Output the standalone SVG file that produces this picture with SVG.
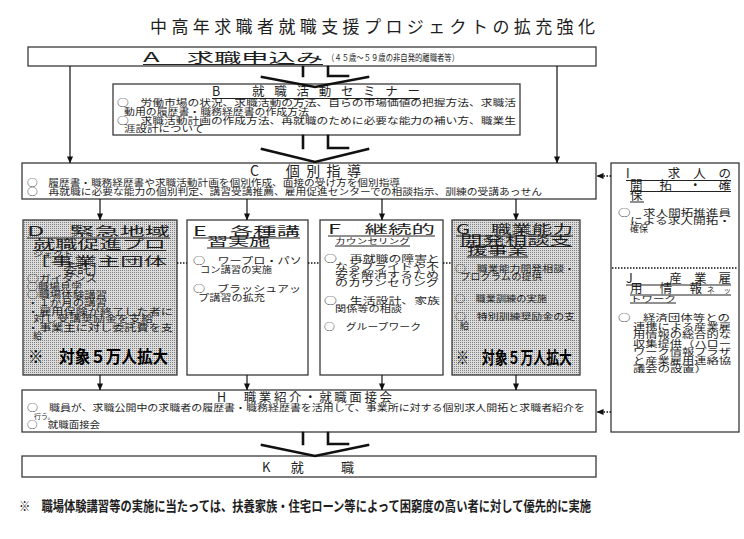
<svg xmlns="http://www.w3.org/2000/svg" width="744" height="539" viewBox="0 0 744 539">
<defs>
<style>
text{font-family:"Noto Sans CJK JP","Noto Sans CJK SC",sans-serif;fill:#1e1e1e;}
.box{fill:#fff;stroke:#3a3a3a;stroke-width:1.3;}
.gbox{fill:url(#ht);stroke:#3a3a3a;stroke-width:1.3;}
.ttl{font-size:12.5px;}
.t{font-size:9px;}
.s{font-size:7.5px;}
.ul{stroke:#222;stroke-width:1;}
.ln{stroke:#111;stroke-width:1.2;fill:none;}
.dot{stroke:#111;stroke-width:1.4;stroke-dasharray:1.5 1.5;fill:none;}
.chev{stroke:#111;stroke-width:2.6;fill:none;stroke-linecap:square;}
.big{font-size:17px;font-weight:bold;fill:#000;}
</style>
<pattern id="ht" width="2" height="2" patternUnits="userSpaceOnUse">
<rect width="2" height="2" fill="#dcdcdc"/><rect width="1" height="1" fill="#808080"/>
</pattern>
<marker id="ah" viewBox="0 0 8 8" refX="7.5" refY="4" markerWidth="7" markerHeight="7" markerUnits="userSpaceOnUse" orient="auto">
<path d="M0,0.5 L8,4 L0,7.5 Z" fill="#111"/>
</marker>
</defs>

<text x="150" y="33" font-size="17" textLength="445" lengthAdjust="spacing">中高年求職者就職支援プロジェクトの拡充強化</text>

<g id="A">
<rect class="box" x="28" y="47" width="568" height="19"/>
<text x="143" y="62" font-size="13" textLength="180" lengthAdjust="spacingAndGlyphs">A　求職申込み</text>
<line class="ul" x1="143" y1="64.5" x2="323" y2="64.5"/>
<text x="327" y="61" font-size="9" textLength="132" lengthAdjust="spacingAndGlyphs">（４５歳～５９歳の非自発的離職者等）</text>
</g>

<g id="B">
<rect class="box" x="113" y="84" width="407" height="51"/>
<text class="ttl" x="212" y="96" textLength="208" lengthAdjust="spacing">B　就職活動セミナー</text>
<line class="ul" x1="212" y1="98.5" x2="420" y2="98.5"/>
<text class="t" x="117" y="106" textLength="399" lengthAdjust="spacingAndGlyphs">○　労働市場の状況、求職活動の方法、自らの市場価値の把握方法、求職活</text>
<text class="t" x="124" y="114.5" textLength="185" lengthAdjust="spacingAndGlyphs">動用の履歴書・職務経歴書の作成方法</text>
<text class="t" x="117" y="123.5" textLength="399" lengthAdjust="spacingAndGlyphs">○　求職活動計画の作成方法、再就職のために必要な能力の補い方、職業生</text>
<text class="t" x="124" y="132" textLength="80" lengthAdjust="spacingAndGlyphs">涯設計について</text>
</g>

<g id="C">
<rect class="box" x="22" y="163" width="574" height="36"/>
<text x="250" y="176" font-size="14" textLength="111" lengthAdjust="spacing">C　個別指導</text>
<text class="t" x="27" y="185.5" textLength="373" lengthAdjust="spacingAndGlyphs">○　履歴書・職務経歴書や求職活動計画を個別作成、面接の受け方を個別指導</text>
<text class="t" x="27" y="195" textLength="515" lengthAdjust="spacingAndGlyphs">○　再就職に必要な能力の個別判定、講習受講推薦、雇用促進センターでの相談指示、訓練の受講あっせん</text>
</g>

<g id="D">
<rect class="gbox" x="23" y="220" width="154" height="155"/>
<text class="ttl" x="27" y="236" textLength="143" lengthAdjust="spacingAndGlyphs">D　緊急地域</text>
<line class="ul" x1="27" y1="238" x2="170" y2="238"/>
<text class="ttl" x="33" y="249" textLength="133" lengthAdjust="spacingAndGlyphs">就職促進プロ</text>
<line class="ul" x1="33" y1="250.5" x2="166" y2="250.5"/>
<text class="s" x="33" y="257" textLength="40" lengthAdjust="spacingAndGlyphs">ジェクト</text>
<text class="ttl" x="27" y="266" textLength="140" lengthAdjust="spacingAndGlyphs">［事業主団体</text>
<text class="ttl" x="63" y="274" textLength="42" lengthAdjust="spacingAndGlyphs">委託］</text>
<text class="t" x="27" y="282" textLength="70" lengthAdjust="spacingAndGlyphs">○ガイダンス</text>
<text class="t" x="27" y="290" textLength="55" lengthAdjust="spacingAndGlyphs">○職場見学</text>
<text class="t" x="27" y="298" textLength="80" lengthAdjust="spacingAndGlyphs">○職場体験講習</text>
<text class="t" x="27" y="306" textLength="80" lengthAdjust="spacingAndGlyphs">・１か月の講習</text>
<text class="t" x="27" y="314.5" textLength="146" lengthAdjust="spacingAndGlyphs">・雇用保険が終了した者に</text>
<text class="t" x="33" y="322" textLength="120" lengthAdjust="spacingAndGlyphs">対し受講奨励金を支給</text>
<text class="t" x="27" y="330.5" textLength="146" lengthAdjust="spacingAndGlyphs">・事業主に対し委託費を支</text>
<text class="t" x="33" y="338.5">給</text>
<text class="big" x="28" y="363" textLength="140" lengthAdjust="spacingAndGlyphs">※　対象５万人拡大</text>
</g>

<g id="E">
<rect class="box" x="187" y="220" width="121" height="155"/>
<text class="ttl" x="193" y="236" textLength="107" lengthAdjust="spacingAndGlyphs">E　各種講</text>
<line class="ul" x1="193" y1="238" x2="300" y2="238"/>
<text class="ttl" x="207" y="246" textLength="63" lengthAdjust="spacingAndGlyphs">習実施</text>
<line class="ul" x1="207" y1="248" x2="270" y2="248"/>
<text class="t" x="193" y="264" textLength="109" lengthAdjust="spacingAndGlyphs">○　ワープロ・パソ</text>
<text class="t" x="200" y="273" textLength="72" lengthAdjust="spacingAndGlyphs">コン講習の実施</text>
<text class="t" x="193" y="292" textLength="108" lengthAdjust="spacingAndGlyphs">○　ブラッシュアッ</text>
<text class="t" x="198" y="301" textLength="67" lengthAdjust="spacingAndGlyphs">プ講習の拡充</text>
</g>

<g id="F">
<rect class="box" x="320" y="220" width="123" height="155"/>
<text class="ttl" x="328" y="234" textLength="107" lengthAdjust="spacingAndGlyphs">F　継続的</text>
<line class="ul" x1="328" y1="236" x2="435" y2="236"/>
<text class="s" x="335" y="244" textLength="75" lengthAdjust="spacingAndGlyphs">カウンセリング</text>
<line class="ul" x1="335" y1="246" x2="410" y2="246"/>
<text class="t" x="324" y="262" textLength="116" lengthAdjust="spacingAndGlyphs">○　再就職の障害と</text>
<text class="t" x="335" y="270" textLength="104" lengthAdjust="spacingAndGlyphs">なるプライドや不</text>
<text class="t" x="335" y="278" textLength="104" lengthAdjust="spacingAndGlyphs">安を解消するため</text>
<text class="t" x="335" y="286" textLength="104" lengthAdjust="spacingAndGlyphs">のカウンセリング</text>
<text class="t" x="324" y="304" textLength="116" lengthAdjust="spacingAndGlyphs">○　生活設計、家族</text>
<text class="t" x="335" y="312" textLength="67" lengthAdjust="spacingAndGlyphs">関係等の相談</text>
<text class="t" x="324" y="330" textLength="97" lengthAdjust="spacingAndGlyphs">○　グループワーク</text>
</g>

<g id="G">
<rect class="gbox" x="452" y="220" width="128" height="155"/>
<text class="ttl" x="456" y="234" textLength="117" lengthAdjust="spacingAndGlyphs">G　職業能力</text>
<line class="ul" x1="456" y1="236" x2="573" y2="236"/>
<text class="ttl" x="460" y="244.5" textLength="112" lengthAdjust="spacingAndGlyphs">開発相談支</text>
<line class="ul" x1="460" y1="246.5" x2="572" y2="246.5"/>
<text class="ttl" x="467" y="255" textLength="61" lengthAdjust="spacingAndGlyphs">援事業</text>
<line class="ul" x1="467" y1="257" x2="528" y2="257"/>
<text class="t" x="455" y="272" textLength="120" lengthAdjust="spacingAndGlyphs">○　職業能力開発相談・</text>
<text class="t" x="460" y="280" textLength="82" lengthAdjust="spacingAndGlyphs">プログラムの提供</text>
<text class="t" x="455" y="302" textLength="92" lengthAdjust="spacingAndGlyphs">○　職業訓練の実施</text>
<text class="t" x="455" y="320" textLength="120" lengthAdjust="spacingAndGlyphs">○　特別訓練奨励金の支</text>
<text class="t" x="460" y="329">給</text>
<text class="big" x="456" y="364" textLength="116" lengthAdjust="spacingAndGlyphs">※　対象５万人拡大</text>
</g>

<g id="H">
<rect class="box" x="22" y="390" width="574" height="42"/>
<text class="ttl" x="217" y="402" textLength="175" lengthAdjust="spacing">H　職業紹介・就職面接会</text>
<text class="t" x="27" y="411" textLength="558" lengthAdjust="spacingAndGlyphs">○　職員が、求職公開中の求職者の履歴書・職務経歴書を活用して、事業所に対する個別求人開拓と求職者紹介を</text>
<text x="34" y="419" font-size="7">行う。</text>
<text class="t" x="27" y="428" textLength="73" lengthAdjust="spacingAndGlyphs">○　就職面接会</text>
</g>

<g id="K">
<rect class="box" x="22" y="456" width="574" height="21"/>
<text x="262" y="472" font-size="13" textLength="92" lengthAdjust="spacing">K　就　　職</text>
</g>

<g id="IJ">
<rect class="box" x="611" y="163" width="128" height="269"/>
<text class="ttl" x="626" y="178" textLength="105" lengthAdjust="spacing">I　求人の</text>
<line class="ul" x1="626" y1="180.5" x2="731" y2="180.5"/>
<text class="ttl" x="630" y="189.5" textLength="101" lengthAdjust="spacing">開拓・確</text>
<line class="ul" x1="630" y1="191.5" x2="731" y2="191.5"/>
<text class="ttl" x="630" y="200">保</text>
<line class="ul" x1="630" y1="202" x2="644" y2="202"/>
<text class="t" x="618" y="216" textLength="113" lengthAdjust="spacingAndGlyphs">○　求人開拓推進員</text>
<text class="t" x="630" y="224" textLength="101" lengthAdjust="spacingAndGlyphs">による求人開拓・</text>
<text class="t" x="630" y="232">確保</text>
<line class="dot" x1="612" y1="268" x2="738" y2="268"/>
<text class="ttl" x="626" y="283" textLength="105" lengthAdjust="spacing">J　産業雇</text>
<line class="ul" x1="626" y1="285" x2="731" y2="285"/>
<text class="ttl" x="630" y="293" textLength="72" lengthAdjust="spacing">用情報</text>
<text x="707" y="293" font-size="7.5" textLength="24" lengthAdjust="spacing">ネッ</text>
<line class="ul" x1="630" y1="295" x2="731" y2="295"/>
<text x="630" y="301.5" font-size="7.5" textLength="46" lengthAdjust="spacingAndGlyphs">トワーク</text>
<line class="ul" x1="630" y1="303" x2="676" y2="303"/>
<text class="t" x="618" y="321" textLength="112" lengthAdjust="spacingAndGlyphs">○　経済団体等との</text>
<text class="t" x="633" y="329.5" textLength="98" lengthAdjust="spacingAndGlyphs">連携による産業雇</text>
<text class="t" x="633" y="338" textLength="98" lengthAdjust="spacingAndGlyphs">用情報の総合的な</text>
<text class="t" x="633" y="346.5" textLength="98" lengthAdjust="spacingAndGlyphs">収集提供（ハロー</text>
<text class="t" x="633" y="355" textLength="98" lengthAdjust="spacingAndGlyphs">ワーク情報プラザ</text>
<text class="t" x="633" y="363.5" textLength="98" lengthAdjust="spacingAndGlyphs">と産業雇用連絡協</text>
<text class="t" x="633" y="372" textLength="74" lengthAdjust="spacingAndGlyphs">議会の設置）</text>
</g>

<g id="connectors">
<line class="ln" x1="70" y1="66" x2="70" y2="163" marker-end="url(#ah)"/>
<line class="ln" x1="557" y1="66" x2="557" y2="163" marker-end="url(#ah)"/>
<path class="chev" d="M303,67 V76 M328,67 V76 H348 M262,77 L315,87 L368,77"/>
<path class="chev" d="M303,136 V148 M328,136 V148 H348 M262,149 L315,162 L368,149"/>
<path class="chev" d="M303,433 V444 M328,433 V444 H348 M262,445 L315,456 L368,445"/>
<line class="ln" x1="100" y1="199" x2="100" y2="220" marker-end="url(#ah)"/>
<line class="ln" x1="247" y1="199" x2="247" y2="220" marker-end="url(#ah)"/>
<line class="ln" x1="382" y1="199" x2="382" y2="220" marker-end="url(#ah)"/>
<line class="ln" x1="516" y1="199" x2="516" y2="220" marker-end="url(#ah)"/>
<line class="ln" x1="100" y1="375" x2="100" y2="390" marker-end="url(#ah)"/>
<line class="ln" x1="247" y1="375" x2="247" y2="390" marker-end="url(#ah)"/>
<line class="ln" x1="382" y1="375" x2="382" y2="390" marker-end="url(#ah)"/>
<line class="ln" x1="516" y1="375" x2="516" y2="390" marker-end="url(#ah)"/>
<line class="dot" x1="177" y1="263" x2="187" y2="263"/>
<line class="dot" x1="308" y1="263" x2="320" y2="263"/>
<line class="dot" x1="443" y1="263" x2="452" y2="263"/>
<line class="dot" x1="611" y1="176" x2="597" y2="176" marker-end="url(#ah)"/>
<line class="dot" x1="611" y1="412" x2="597" y2="412" marker-end="url(#ah)"/>
</g>

<text x="19" y="511" font-size="14" font-weight="bold" fill="#000" textLength="572" lengthAdjust="spacingAndGlyphs">※　職場体験講習等の実施に当たっては、扶養家族・住宅ローン等によって困窮度の高い者に対して優先的に実施</text>
</svg>
